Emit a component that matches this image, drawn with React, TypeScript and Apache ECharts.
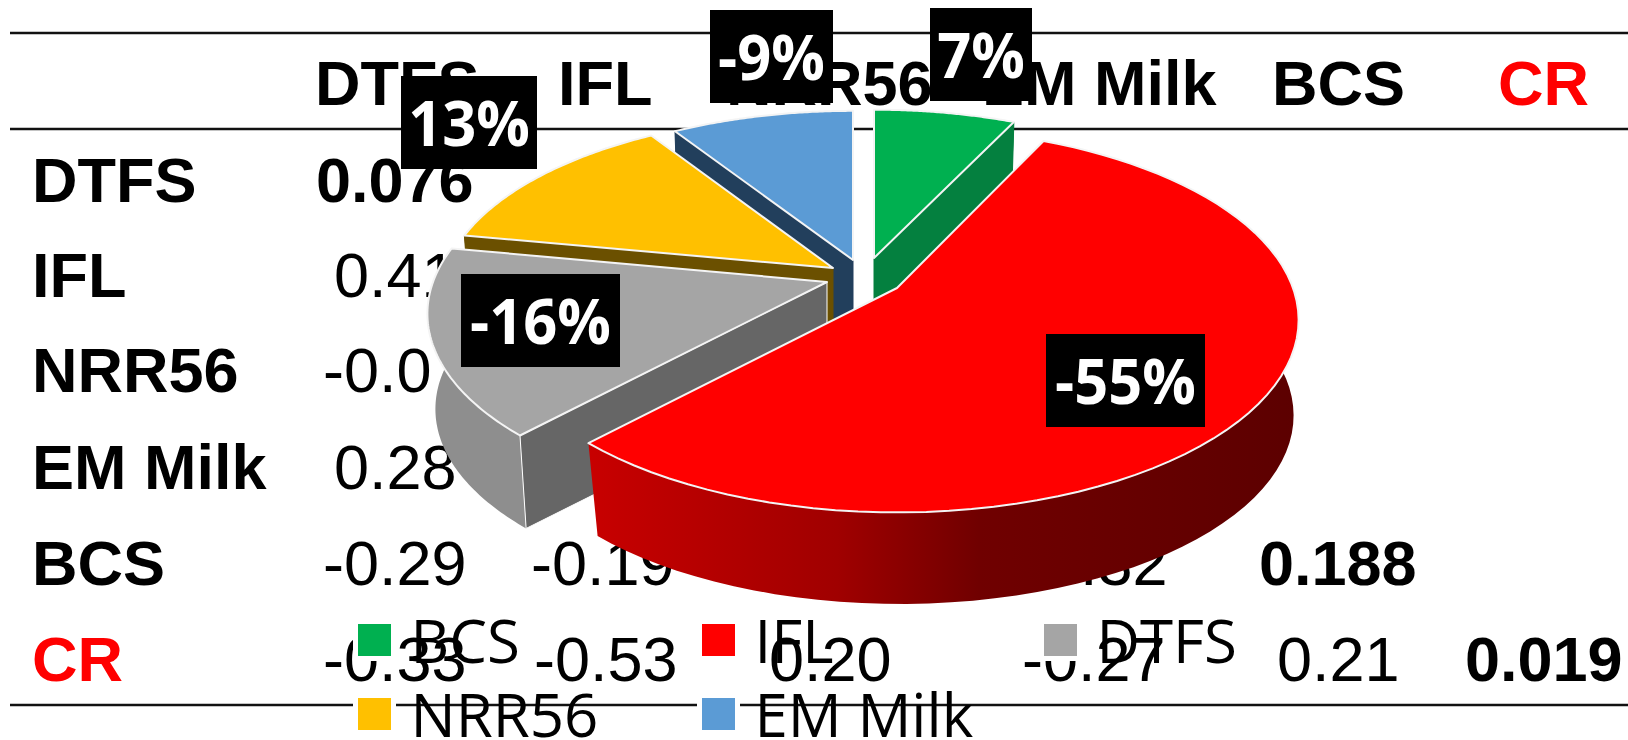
import React, { useEffect, useRef } from "react";
import * as echarts from "echarts";

// ---- table data
const tableHeaders = ["DTFS", "IFL", "NRR56", "EM Milk", "BCS", "CR"];
const rowLabels = ["DTFS", "IFL", "NRR56", "EM Milk", "BCS", "CR"];
const rowDtfs = ["0.076"];
const rowIfl = ["0.41"];
const rowNrr = ["-0.0"];
const rowEm = ["0.28"];
const rowBcs = ["-0.29", "-0.19", "", "-0.32", "0.188"];
const rowCr = ["-0.33", "-0.53", "0.20", "-0.27", "0.21", "0.019"];
const tableRows = [rowDtfs, rowIfl, rowNrr, rowEm, rowBcs, rowCr];

// ---- pie data, clockwise from twelve o'clock
const sliceNames = ["BCS", "IFL", "DTFS", "NRR56", "EM Milk"];
const sliceValues = [7, -55, -16, 13, -9];
const sliceLabels = ["7%", "-55%", "-16%", "13%", "-9%"];

// ---- styles and layout
const topColors = ["#00B050", "#FF0000", "#A5A5A5", "#FFC000", "#5B9BD5"];
const faceColors = ["#04803F", "#7A0000", "#666666", "#6B5000", "#223F5C"];
const wallColors = ["#04803F", "RED", "#8E8E8E", "#6B5000", "#223F5C"];
const apexX = [874, 897, 827, 833, 853];
const apexY = [258, 288, 282, 268, 260];
const radiusX = [378, 396, 394, 387, 379];
const radiusY = [173, 187, 185, 179, 174];
const bottomShift = [0, 3, 0, 0, 0];
const drawOrder = [4, 0, 3, 2, 1];
const PERSPECTIVE = 1 / 6;
const DEPTH = 96;
const BOTTOM_SCALE = 0.98;

const labelCx = [981, 1125.5, 540.5, 469, 771.5];
const labelCy = [54.5, 380.5, 320.5, 122.5, 56.5];
const labelW = [102, 159, 159, 136, 123];
const labelH = 93;

const colStarts = [
  [316, 531, 769, 1022, 1259, 1465],
  [334], [323], [334],
  [323, 531, 769, 1024, 1259],
  [323, 534, 769, 1022, 1277, 1465],
];
const headerX = [315, 558, 726, 982, 1272, 1498];
const rowCapCenter = [179.5, 275, 370, 466.5, 563, 659];
const HEADER_CAP_CENTER = 82.5;
const FONT = '63px "Liberation Sans"';
const BOLD = 'bold 63px "Liberation Sans"';

const magnitudes = sliceValues.map((v) => Math.abs(v));
const total = magnitudes.reduce((a, b) => a + b, 0);
const startAngles = magnitudes.map(
  (_, i) => (magnitudes.slice(0, i).reduce((a, b) => a + b, 0) / total) * Math.PI * 2
);
const endAngles = magnitudes.map((m, i) => startAngles[i] + (m / total) * Math.PI * 2);

function rim(i: number, t: number, lower: boolean): number[] {
  const v = Math.cos(t);
  const f = 1 / (1 + PERSPECTIVE * v);
  const s = lower ? BOTTOM_SCALE : 1;
  const d = lower ? DEPTH : 0;
  const sx = lower ? bottomShift[i] : 0;
  return [apexX[i] + radiusX[i] * Math.sin(t) * f * s + sx, apexY[i] - radiusY[i] * v * f * s + d];
}

function arc(i: number, lower: boolean): number[][] {
  const pts: number[][] = [];
  const n = 72;
  for (let k = 0; k <= n; k++) {
    pts.push(rim(i, startAngles[i] + ((endAngles[i] - startAngles[i]) * k) / n, lower));
  }
  return pts;
}

function renderSlice(i: number) {
  return () => {
    const upper = arc(i, false);
    const lower = arc(i, true);
    const apexTop = [apexX[i], apexY[i]];
    const apexLow = [apexX[i], apexY[i] + DEPTH];
    const children: any[] = [];
    const wallFill =
      wallColors[i] === "RED"
        ? new echarts.graphic.LinearGradient(0, 0, 1, 0, [
            { offset: 0, color: "#C80000" },
            { offset: 0.35, color: "#A00000" },
            { offset: 0.55, color: "#700000" },
            { offset: 1, color: "#5C0000" },
          ])
        : wallColors[i];
    const faceLine = i === 2 ? "#FFFFFF" : faceColors[i];
    children.push({
      type: "polygon",
      shape: { points: [...upper, ...lower.slice().reverse()] },
      style: { fill: wallFill, stroke: "none" },
    });
    const face = (pU: number[], pL: number[]) => {
      children.push({
        type: "polygon",
        shape: { points: [apexTop, pU, pL, apexLow] },
        style: { fill: faceColors[i], stroke: faceLine, lineWidth: 1 },
      });
    };
    if (Math.sin(endAngles[i]) > 0.001) face(upper[upper.length - 1], lower[lower.length - 1]);
    if (Math.sin(startAngles[i]) < -0.001) face(upper[0], lower[0]);
    children.push({
      type: "polygon",
      shape: { points: [apexTop, ...upper] },
      style: { fill: topColors[i], stroke: "#F4F4F4", lineWidth: 2, lineJoin: "round" },
    });
    return { type: "group", children };
  };
}

function renderLabel(_: any, api: any) {
  const i = api.value(0);
  return {
    type: "group",
    x: labelCx[i],
    y: labelCy[i],
    children: [
      {
        type: "rect",
        shape: { x: -labelW[i] / 2, y: -labelH / 2, width: labelW[i], height: labelH },
        style: { fill: "#000000" },
      },
      {
        type: "text",
        scaleX: 0.96,
        style: {
          text: sliceLabels[i],
          x: 0,
          y: 0,
          align: "center",
          verticalAlign: "middle",
          fill: "#FFFFFF",
          font: 'bold 62px "Open Sans"',
        },
      },
    ],
  };
}

function tableGraphics() {
  const els: any[] = [];
  [33, 129, 705].forEach((y) => {
    els.push({
      type: "line",
      z: 0,
      shape: { x1: 10, y1: y, x2: 1628, y2: y },
      style: { stroke: "#111111", lineWidth: 2.5 },
    });
  });
  const text = (t: string, x: number, y: number, font: string, fill: string) => {
    if (!t) return;
    els.push({ type: "text", z: 1, style: { text: t, x, y, font, fill, verticalAlign: "middle", align: "left" } });
  };
  tableHeaders.forEach((h, c) => text(h, headerX[c], HEADER_CAP_CENTER, BOLD, h === "CR" ? "#FF0000" : "#000000"));
  rowLabels.forEach((l, r) => {
    text(l, 32, rowCapCenter[r], BOLD, l === "CR" ? "#FF0000" : "#000000");
    tableRows[r].forEach((v, c) => text(v, colStarts[r][c], rowCapCenter[r], c === r ? BOLD : FONT, "#000000"));
  });
  return els;
}

function legendItem(left: number, top: number, name: string) {
  return {
    left,
    top,
    orient: "vertical",
    padding: 0,
    itemWidth: 38,
    itemHeight: 37,
    icon: "rect",
    data: [name],
    selectedMode: false,
    itemStyle: { borderColor: "#FFFFFF", borderWidth: 5 },
    textStyle: {
      fontFamily: "Open Sans",
      fontSize: 60,
      lineHeight: 37,
      color: "#000000",
      padding: [0, 0, 16, 12],
    },
  };
}

export default function App() {
  const ref = useRef<HTMLDivElement>(null);
  useEffect(() => {
    document.body.style.margin = "0";
    document.body.style.overflow = "hidden";
    const chart = echarts.init(ref.current!, null, { renderer: "svg" });
    const series: any[] = drawOrder.map((i) => ({
      type: "custom",
      name: sliceNames[i],
      coordinateSystem: "none",
      silent: true,
      itemStyle: { color: topColors[i] },
      data: [[magnitudes[i]]],
      renderItem: renderSlice(i),
    }));
    series.push({
      type: "custom",
      name: "labels",
      coordinateSystem: "none",
      silent: true,
      z: 3,
      data: sliceLabels.map((_, i) => [i]),
      renderItem: renderLabel,
    });
    chart.setOption({
      animation: false,
      backgroundColor: "#FFFFFF",
      graphic: { elements: tableGraphics() },
      legend: [
        legendItem(353, 610, "BCS"),
        legendItem(353, 684, "NRR56"),
        legendItem(697, 610, "IFL"),
        legendItem(697, 684, "EM Milk"),
        legendItem(1039, 610, "DTFS"),
      ],
      series,
    });
    return () => chart.dispose();
  }, []);
  return <div ref={ref} style={{ position: "absolute", left: 0, top: 0, width: 1628, height: 740 }} />;
}
